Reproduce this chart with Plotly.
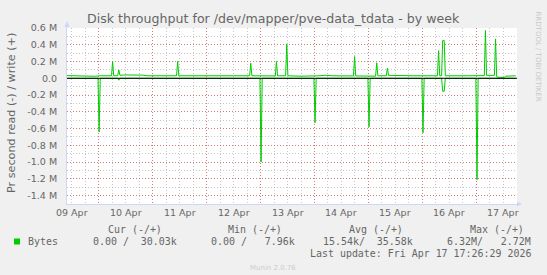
import plotly.graph_objects as go

# ---------------- data (values in millions of bytes per second) ----------------
write_times = [
    "2026-04-09 10:00", "2026-04-09 15:30", "2026-04-09 17:00", "2026-04-09 22:30",
    "2026-04-10 00:30", "2026-04-10 05:45", "2026-04-10 06:15", "2026-04-10 06:45",
    "2026-04-10 08:30", "2026-04-10 09:00", "2026-04-10 09:30", "2026-04-10 11:30",
    "2026-04-10 19:30", "2026-04-10 21:30", "2026-04-11 10:40", "2026-04-11 11:10",
    "2026-04-11 11:40", "2026-04-11 18:00", "2026-04-12 06:00", "2026-04-12 12:00",
    "2026-04-12 19:10", "2026-04-12 19:40", "2026-04-12 20:10", "2026-04-13 02:00",
    "2026-04-13 06:35", "2026-04-13 07:05", "2026-04-13 07:35", "2026-04-13 11:10",
    "2026-04-13 11:40", "2026-04-13 12:10", "2026-04-13 18:00", "2026-04-14 02:00",
    "2026-04-14 05:00", "2026-04-14 08:00", "2026-04-14 17:20", "2026-04-14 17:50",
    "2026-04-14 18:20", "2026-04-15 03:10", "2026-04-15 03:40", "2026-04-15 04:10",
    "2026-04-15 07:55", "2026-04-15 08:25", "2026-04-15 08:55", "2026-04-15 20:00",
    "2026-04-16 06:40", "2026-04-16 07:10", "2026-04-16 07:40", "2026-04-16 08:30",
    "2026-04-16 09:00", "2026-04-16 09:40", "2026-04-16 10:10", "2026-04-16 20:00",
    "2026-04-17 03:30", "2026-04-17 04:00", "2026-04-17 04:30", "2026-04-17 08:00",
    "2026-04-17 08:30", "2026-04-17 09:00", "2026-04-17 09:30", "2026-04-17 12:30",
    "2026-04-17 13:00", "2026-04-17 17:26",
]
write_values = [
    0.032, 0.031, 0.022, 0.024,
    0.030, 0.030, 0.200, 0.030,
    0.030, 0.100, 0.035, 0.040,
    0.038, 0.030, 0.030, 0.200,
    0.030, 0.032, 0.028, 0.030,
    0.030, 0.180, 0.030, 0.030,
    0.028, 0.200, 0.030, 0.030,
    0.410, 0.030, 0.025, 0.030,
    0.036, 0.030, 0.028, 0.260,
    0.028, 0.025, 0.185, 0.030,
    0.030, 0.120, 0.035, 0.030,
    0.030, 0.330, 0.030, 0.030,
    0.450, 0.450, 0.030, 0.030,
    0.032, 0.570, 0.035, 0.035,
    0.470, 0.020, 0.012, 0.012,
    0.025, 0.030,
]

read_times = [
    "2026-04-09 10:00", "2026-04-09 23:45", "2026-04-10 00:15", "2026-04-10 00:45",
    "2026-04-10 08:30", "2026-04-10 09:00", "2026-04-10 09:30", "2026-04-12 23:45",
    "2026-04-13 00:15", "2026-04-13 00:45", "2026-04-13 23:45", "2026-04-14 00:15",
    "2026-04-14 00:45", "2026-04-14 23:45", "2026-04-15 00:15", "2026-04-15 00:45",
    "2026-04-15 23:45", "2026-04-16 00:15", "2026-04-16 00:45", "2026-04-16 08:30",
    "2026-04-16 09:00", "2026-04-16 09:40", "2026-04-16 10:10", "2026-04-16 23:45",
    "2026-04-17 00:15", "2026-04-17 00:45", "2026-04-17 17:26",
]
read_values = [
    0.0, 0.0, -0.640, 0.0,
    0.0, -0.023, 0.0, 0.0,
    -1.000, 0.0, 0.0, -0.530,
    0.0, 0.0, -0.580, 0.0,
    0.0, -0.650, 0.0, 0.0,
    -0.155, -0.155, 0.0, 0.0,
    -1.210, 0.0, 0.0,
]

y_tick_values = [0.6, 0.4, 0.2, 0.0, -0.2, -0.4, -0.6, -0.8, -1.0, -1.2, -1.4]
y_tick_labels = ["0.6 M", "0.4 M", "0.2 M", "0.0", "-0.2 M", "-0.4 M", "-0.6 M",
                 "-0.8 M", "-1.0 M", "-1.2 M", "-1.4 M"]

day_midnights = ["2026-04-10", "2026-04-11", "2026-04-12", "2026-04-13",
                 "2026-04-14", "2026-04-15", "2026-04-16", "2026-04-17"]
day_noons = ["2026-04-09 12:00", "2026-04-10 12:00", "2026-04-11 12:00",
             "2026-04-12 12:00", "2026-04-13 12:00", "2026-04-14 12:00",
             "2026-04-15 12:00", "2026-04-16 12:00", "2026-04-17 12:00"]
day_labels = ["09 Apr", "10 Apr", "11 Apr", "12 Apr", "13 Apr", "14 Apr",
              "15 Apr", "16 Apr", "17 Apr"]

x_start = "2026-04-09 09:58"
x_end = "2026-04-17 18:02"
y_min, y_max = -1.5, 0.6

title_text = "Disk throughput for /dev/mapper/pve-data_tdata - by week"
y_title = "Pr second read (-) / write (+)"
series_name = "Bytes"
legend_headers = ["Cur (-/+)", "Min (-/+)", "Avg (-/+)", "Max (-/+)"]
legend_values = ["0.00 /  30.03k", "0.00 /   7.96k", "15.54k/  35.58k", "6.32M/   2.72M"]
last_update = "Last update: Fri Apr 17 17:26:29 2026"
munin_version = "Munin 2.0.76"
rrd_credit = "RRDTOOL / TOBI OETIKER"

# ---------------- layout geometry ----------------
W, H = 547, 275
PL, PR, PT, PB = 67, 517, 28, 204


def px(x):
    return (x - PL) / (PR - PL)


def py(y):
    return (PB - y) / (PB - PT)


GREEN = "#00CC00"
FONT_COL = "#666666"
AXIS_COL = "#CFD6F8"
MGRID = "rgba(222,48,48,0.50)"
GRID = "rgba(143,143,143,0.50)"
SANS = "DejaVu Sans"
MONO = "DejaVu Sans Mono"

fig = go.Figure()
fig.add_trace(go.Scatter(x=read_times, y=read_values, mode="lines",
                         line=dict(color=GREEN, width=1), hoverinfo="skip",
                         showlegend=False))
fig.add_trace(go.Scatter(x=write_times, y=write_values, mode="lines",
                         line=dict(color=GREEN, width=1), hoverinfo="skip",
                         showlegend=False))

fig.update_layout(
    width=W, height=H,
    margin=dict(l=PL, r=W - PR, t=PT, b=H - PB, pad=0),
    paper_bgcolor="#F0F0F0", plot_bgcolor="#FFFFFF",
    showlegend=False,
    font=dict(family=SANS, color=FONT_COL, size=9.5),
    xaxis=dict(
        type="date", range=[x_start, x_end],
        tickmode="array", tickvals=day_midnights, showticklabels=False,
        ticks="", showgrid=True, gridcolor=MGRID, griddash="1px,2px", gridwidth=1,
        minor=dict(dtick=6 * 3600 * 1000, tick0="2026-04-09", showgrid=True,
                   gridcolor=GRID, griddash="1px,2px", gridwidth=1, ticks=""),
        showline=True, linecolor=AXIS_COL, linewidth=1, zeroline=False,
        fixedrange=True,
    ),
    yaxis=dict(
        range=[y_min, y_max], tickmode="array", tickvals=y_tick_values,
        ticktext=y_tick_labels, ticks="", ticklabelstandoff=7,
        tickfont=dict(family=SANS, size=9.5, color=FONT_COL),
        showgrid=True, gridcolor=MGRID, griddash="1px,2px", gridwidth=1,
        minor=dict(dtick=0.1, tick0=0, showgrid=True, gridcolor=GRID,
                   griddash="1px,2px", gridwidth=1, ticks=""),
        showline=True, linecolor=AXIS_COL, linewidth=1, zeroline=False,
        fixedrange=True,
    ),
)

shapes = []
# zero line (HRULE)
shapes.append(dict(type="line", xref="paper", yref="y", x0=0, x1=1, y0=0, y1=0,
                   line=dict(color="#000000", width=1), layer="above"))
# axis arrows
shapes.append(dict(type="line", xref="paper", yref="paper", x0=1, x1=px(520),
                   y0=0, y1=0, line=dict(color=AXIS_COL, width=1)))
shapes.append(dict(type="path", xref="paper", yref="paper",
                   path=f"M {px(517)} {py(201.5)} L {px(522)} {py(204)} L {px(517)} {py(206.5)} Z",
                   fillcolor=AXIS_COL, line=dict(color=AXIS_COL, width=0)))
shapes.append(dict(type="line", xref="paper", yref="paper", x0=0, x1=0,
                   y0=1, y1=py(24), line=dict(color=AXIS_COL, width=1)))
shapes.append(dict(type="path", xref="paper", yref="paper",
                   path=f"M {px(64.5)} {py(27)} L {px(67)} {py(21)} L {px(69.5)} {py(27)} Z",
                   fillcolor=AXIS_COL, line=dict(color=AXIS_COL, width=0)))
# legend colour box
shapes.append(dict(type="rect", xref="paper", yref="paper",
                   x0=px(14), x1=px(20), y0=py(244.5), y1=py(238.5),
                   fillcolor=GREEN, line=dict(width=0)))
fig.update_layout(shapes=shapes)

ann = []
ann.append(dict(text=title_text, xref="paper", yref="paper", x=px(273.5), y=py(18.5),
                xanchor="center", yanchor="middle", showarrow=False,
                font=dict(family=SANS, size=12.6, color=FONT_COL)))
ann.append(dict(text=y_title, xref="paper", yref="paper", x=px(11.5), y=py(113.5),
                xanchor="center", yanchor="middle", textangle=-90, showarrow=False,
                font=dict(family=SANS, size=11.2, color=FONT_COL)))
ann.append(dict(text=rrd_credit, xref="paper", yref="paper", x=px(537.5), y=py(56),
                xanchor="center", yanchor="middle", textangle=90, showarrow=False,
                font=dict(family=SANS, size=7, color="#C8C8C8")))
for lbl, xv in zip(day_labels, day_noons):
    ann.append(dict(text=lbl, xref="x", yref="paper", x=xv, y=py(212.5),
                    xanchor="center", yanchor="middle", showarrow=False,
                    font=dict(family=SANS, size=9.5, color=FONT_COL)))
header_right = [164, 284.4, 404.7, 526.2]
value_right = [179.3, 297.3, 415.2, 533.1]
for txt, xr in zip(legend_headers, header_right):
    ann.append(dict(text=txt.replace(" ", "\u00a0"), xref="paper", yref="paper",
                    x=px(xr), y=py(229), xanchor="right", yanchor="middle",
                    showarrow=False, font=dict(family=MONO, size=9.95, color=FONT_COL)))
for txt, xr in zip(legend_values, value_right):
    ann.append(dict(text=txt.replace(" ", "\u00a0"), xref="paper", yref="paper",
                    x=px(xr), y=py(241.3), xanchor="right", yanchor="middle",
                    showarrow=False, font=dict(family=MONO, size=9.95, color=FONT_COL)))
ann.append(dict(text=series_name, xref="paper", yref="paper", x=px(26.2), y=py(241.3),
                xanchor="left", yanchor="middle", showarrow=False,
                font=dict(family=MONO, size=9.95, color=FONT_COL)))
ann.append(dict(text=last_update, xref="paper", yref="paper", x=px(532.8), y=py(253.6),
                xanchor="right", yanchor="middle", showarrow=False,
                font=dict(family=MONO, size=9.95, color=FONT_COL)))
ann.append(dict(text=munin_version, xref="paper", yref="paper", x=px(273), y=py(267.6),
                xanchor="center", yanchor="middle", showarrow=False,
                font=dict(family=SANS, size=7, color="#CCCCCC")))
fig.update_layout(annotations=ann)

fig.write_html("out.html", config={"displayModeBar": False, "staticPlot": True})
